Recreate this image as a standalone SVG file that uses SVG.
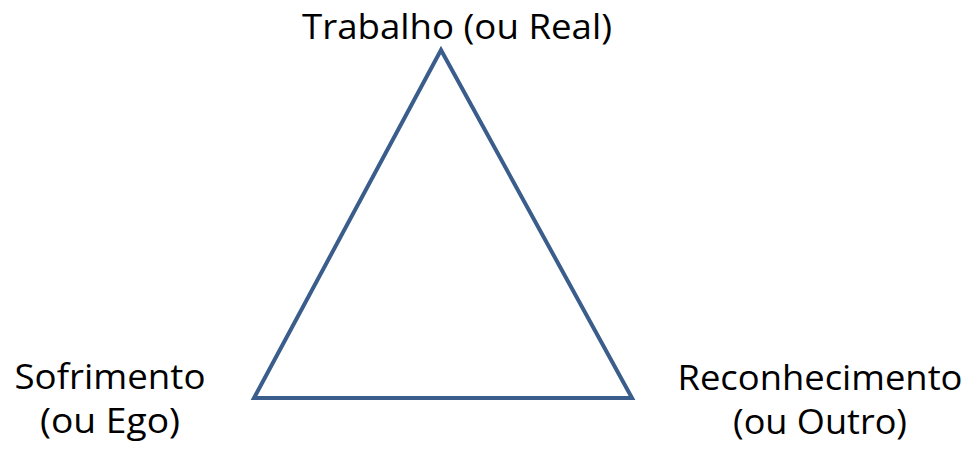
<svg xmlns="http://www.w3.org/2000/svg" width="971" height="449" viewBox="0 0 971 449">
<style>
.lbl{font-family:"Open Sans","Liberation Sans",sans-serif;font-size:35px;fill:#000;text-anchor:middle}
.edge{fill:none;stroke:#3A5D8C;stroke-width:4;stroke-linejoin:miter}
</style>
<rect width="971" height="449" fill="#fff"/>
<g id="connectors">
<polygon class="edge" points="441,50 632,398 254,398"/>
</g>
<g id="node-trabalho">
<text class="lbl" x="457" y="39" textLength="310" lengthAdjust="spacingAndGlyphs">Trabalho (ou Real)</text>
</g>
<g id="node-sofrimento">
<text class="lbl" x="110" y="389" textLength="191" lengthAdjust="spacingAndGlyphs">Sofrimento</text>
<text class="lbl" x="110" y="433" textLength="140" lengthAdjust="spacingAndGlyphs">(ou Ego)</text>
</g>
<g id="node-reconhecimento">
<text class="lbl" x="820" y="390" textLength="285" lengthAdjust="spacingAndGlyphs">Reconhecimento</text>
<text class="lbl" x="820" y="434" textLength="174" lengthAdjust="spacingAndGlyphs">(ou Outro)</text>
</g>
</svg>
